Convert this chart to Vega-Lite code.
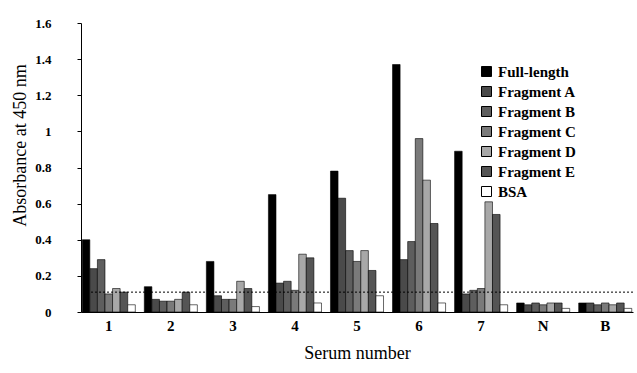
{
  "$schema": "https://vega.github.io/schema/vega-lite/v6.json",
  "width": 552,
  "height": 289,
  "autosize": "none",
  "padding": {"left": 81, "top": 23, "right": 4, "bottom": 61},
  "background": "white",
  "config": {
    "view": {"stroke": null},
    "font": "Liberation Serif",
    "axis": {"grid": false, "domainColor": "black", "tickColor": "black", "labelColor": "black", "titleColor": "black"}
  },
  "layer": [
    {
      "data": {"values": [
        {"serum": "1", "antigen": "Full-length", "od": 0.40},
        {"serum": "1", "antigen": "Fragment A", "od": 0.24},
        {"serum": "1", "antigen": "Fragment B", "od": 0.29},
        {"serum": "1", "antigen": "Fragment C", "od": 0.10},
        {"serum": "1", "antigen": "Fragment D", "od": 0.13},
        {"serum": "1", "antigen": "Fragment E", "od": 0.11},
        {"serum": "1", "antigen": "BSA", "od": 0.04},
        {"serum": "2", "antigen": "Full-length", "od": 0.14},
        {"serum": "2", "antigen": "Fragment A", "od": 0.07},
        {"serum": "2", "antigen": "Fragment B", "od": 0.06},
        {"serum": "2", "antigen": "Fragment C", "od": 0.06},
        {"serum": "2", "antigen": "Fragment D", "od": 0.07},
        {"serum": "2", "antigen": "Fragment E", "od": 0.11},
        {"serum": "2", "antigen": "BSA", "od": 0.04},
        {"serum": "3", "antigen": "Full-length", "od": 0.28},
        {"serum": "3", "antigen": "Fragment A", "od": 0.09},
        {"serum": "3", "antigen": "Fragment B", "od": 0.07},
        {"serum": "3", "antigen": "Fragment C", "od": 0.07},
        {"serum": "3", "antigen": "Fragment D", "od": 0.17},
        {"serum": "3", "antigen": "Fragment E", "od": 0.13},
        {"serum": "3", "antigen": "BSA", "od": 0.03},
        {"serum": "4", "antigen": "Full-length", "od": 0.65},
        {"serum": "4", "antigen": "Fragment A", "od": 0.16},
        {"serum": "4", "antigen": "Fragment B", "od": 0.17},
        {"serum": "4", "antigen": "Fragment C", "od": 0.12},
        {"serum": "4", "antigen": "Fragment D", "od": 0.32},
        {"serum": "4", "antigen": "Fragment E", "od": 0.30},
        {"serum": "4", "antigen": "BSA", "od": 0.05},
        {"serum": "5", "antigen": "Full-length", "od": 0.78},
        {"serum": "5", "antigen": "Fragment A", "od": 0.63},
        {"serum": "5", "antigen": "Fragment B", "od": 0.34},
        {"serum": "5", "antigen": "Fragment C", "od": 0.28},
        {"serum": "5", "antigen": "Fragment D", "od": 0.34},
        {"serum": "5", "antigen": "Fragment E", "od": 0.23},
        {"serum": "5", "antigen": "BSA", "od": 0.09},
        {"serum": "6", "antigen": "Full-length", "od": 1.37},
        {"serum": "6", "antigen": "Fragment A", "od": 0.29},
        {"serum": "6", "antigen": "Fragment B", "od": 0.39},
        {"serum": "6", "antigen": "Fragment C", "od": 0.96},
        {"serum": "6", "antigen": "Fragment D", "od": 0.73},
        {"serum": "6", "antigen": "Fragment E", "od": 0.49},
        {"serum": "6", "antigen": "BSA", "od": 0.05},
        {"serum": "7", "antigen": "Full-length", "od": 0.89},
        {"serum": "7", "antigen": "Fragment A", "od": 0.10},
        {"serum": "7", "antigen": "Fragment B", "od": 0.12},
        {"serum": "7", "antigen": "Fragment C", "od": 0.13},
        {"serum": "7", "antigen": "Fragment D", "od": 0.61},
        {"serum": "7", "antigen": "Fragment E", "od": 0.54},
        {"serum": "7", "antigen": "BSA", "od": 0.04},
        {"serum": "N", "antigen": "Full-length", "od": 0.05},
        {"serum": "N", "antigen": "Fragment A", "od": 0.04},
        {"serum": "N", "antigen": "Fragment B", "od": 0.05},
        {"serum": "N", "antigen": "Fragment C", "od": 0.04},
        {"serum": "N", "antigen": "Fragment D", "od": 0.05},
        {"serum": "N", "antigen": "Fragment E", "od": 0.05},
        {"serum": "N", "antigen": "BSA", "od": 0.02},
        {"serum": "B", "antigen": "Full-length", "od": 0.05},
        {"serum": "B", "antigen": "Fragment A", "od": 0.05},
        {"serum": "B", "antigen": "Fragment B", "od": 0.04},
        {"serum": "B", "antigen": "Fragment C", "od": 0.05},
        {"serum": "B", "antigen": "Fragment D", "od": 0.04},
        {"serum": "B", "antigen": "Fragment E", "od": 0.05},
        {"serum": "B", "antigen": "BSA", "od": 0.02}
      ]},
      "mark": {"type": "bar", "stroke": "black", "strokeWidth": 0.6},
      "encoding": {
        "x": {
          "field": "serum", "type": "nominal",
          "sort": ["1", "2", "3", "4", "5", "6", "7", "N", "B"],
          "scale": {"paddingInner": 0.145, "paddingOuter": 0.02},
          "axis": {
            "title": "Serum number", "labelAngle": 0, "labelFont": "Liberation Serif", "labelFontWeight": "bold",
            "labelFontSize": 15, "labelPadding": 6, "labelDx": -4, "ticks": false,
            "titleFont": "Liberation Serif", "titleFontWeight": "normal", "titleFontSize": 18, "titlePadding": 11
          }
        },
        "xOffset": {
          "field": "antigen", "type": "nominal",
          "sort": ["Full-length", "Fragment A", "Fragment B", "Fragment C", "Fragment D", "Fragment E", "BSA"]
        },
        "y": {
          "field": "od", "type": "quantitative",
          "scale": {"domain": [0, 1.6], "nice": false},
          "axis": {
            "title": "Absorbance at 450 nm", "values": [0, 0.2, 0.4, 0.6, 0.8, 1, 1.2, 1.4, 1.6], "format": ".1~f",
            "labelOverlap": false, "labelFlush": false,
            "labelFont": "Liberation Serif", "labelFontWeight": "bold", "labelFontSize": 13,
            "tickSize": 4, "labelPadding": 26,
            "titleFont": "Liberation Serif", "titleFontWeight": "normal", "titleFontSize": 18,
            "titleX": -61, "titleY": 122, "titleAlign": "center", "titleBaseline": "middle", "titleAngle": -90
          }
        },
        "fill": {
          "field": "antigen", "type": "nominal",
          "scale": {
            "domain": ["Full-length", "Fragment A", "Fragment B", "Fragment C", "Fragment D", "Fragment E", "BSA"],
            "range": ["#000000", "#4a4a4a", "#5e5e5e", "#7a7a7a", "#a8a8a8", "#555555", "#ffffff"]
          },
          "legend": {
            "title": null, "orient": "none", "legendX": 398, "legendY": 41,
            "symbolType": "square", "symbolSize": 100, "symbolStrokeColor": "black", "symbolStrokeWidth": 1,
            "labelFont": "Liberation Serif", "labelFontWeight": "bold", "labelFontSize": 15, "labelColor": "black",
            "rowPadding": 4, "labelOffset": 4
          }
        }
      }
    },
    {
      "data": {"values": [{"cutoff": 0.11}]},
      "mark": {"type": "rule", "color": "black", "strokeWidth": 1, "strokeDash": [2, 2]},
      "encoding": {
        "y": {
          "field": "cutoff", "type": "quantitative",
          "axis": {
            "title": "Absorbance at 450 nm", "values": [0, 0.2, 0.4, 0.6, 0.8, 1, 1.2, 1.4, 1.6], "format": ".1~f",
            "labelOverlap": false, "labelFlush": false,
            "labelFont": "Liberation Serif", "labelFontWeight": "bold", "labelFontSize": 13,
            "tickSize": 4, "labelPadding": 26,
            "titleFont": "Liberation Serif", "titleFontWeight": "normal", "titleFontSize": 18,
            "titleX": -61, "titleY": 122, "titleAlign": "center", "titleBaseline": "middle", "titleAngle": -90
          }
        }
      }
    }
  ]
}
